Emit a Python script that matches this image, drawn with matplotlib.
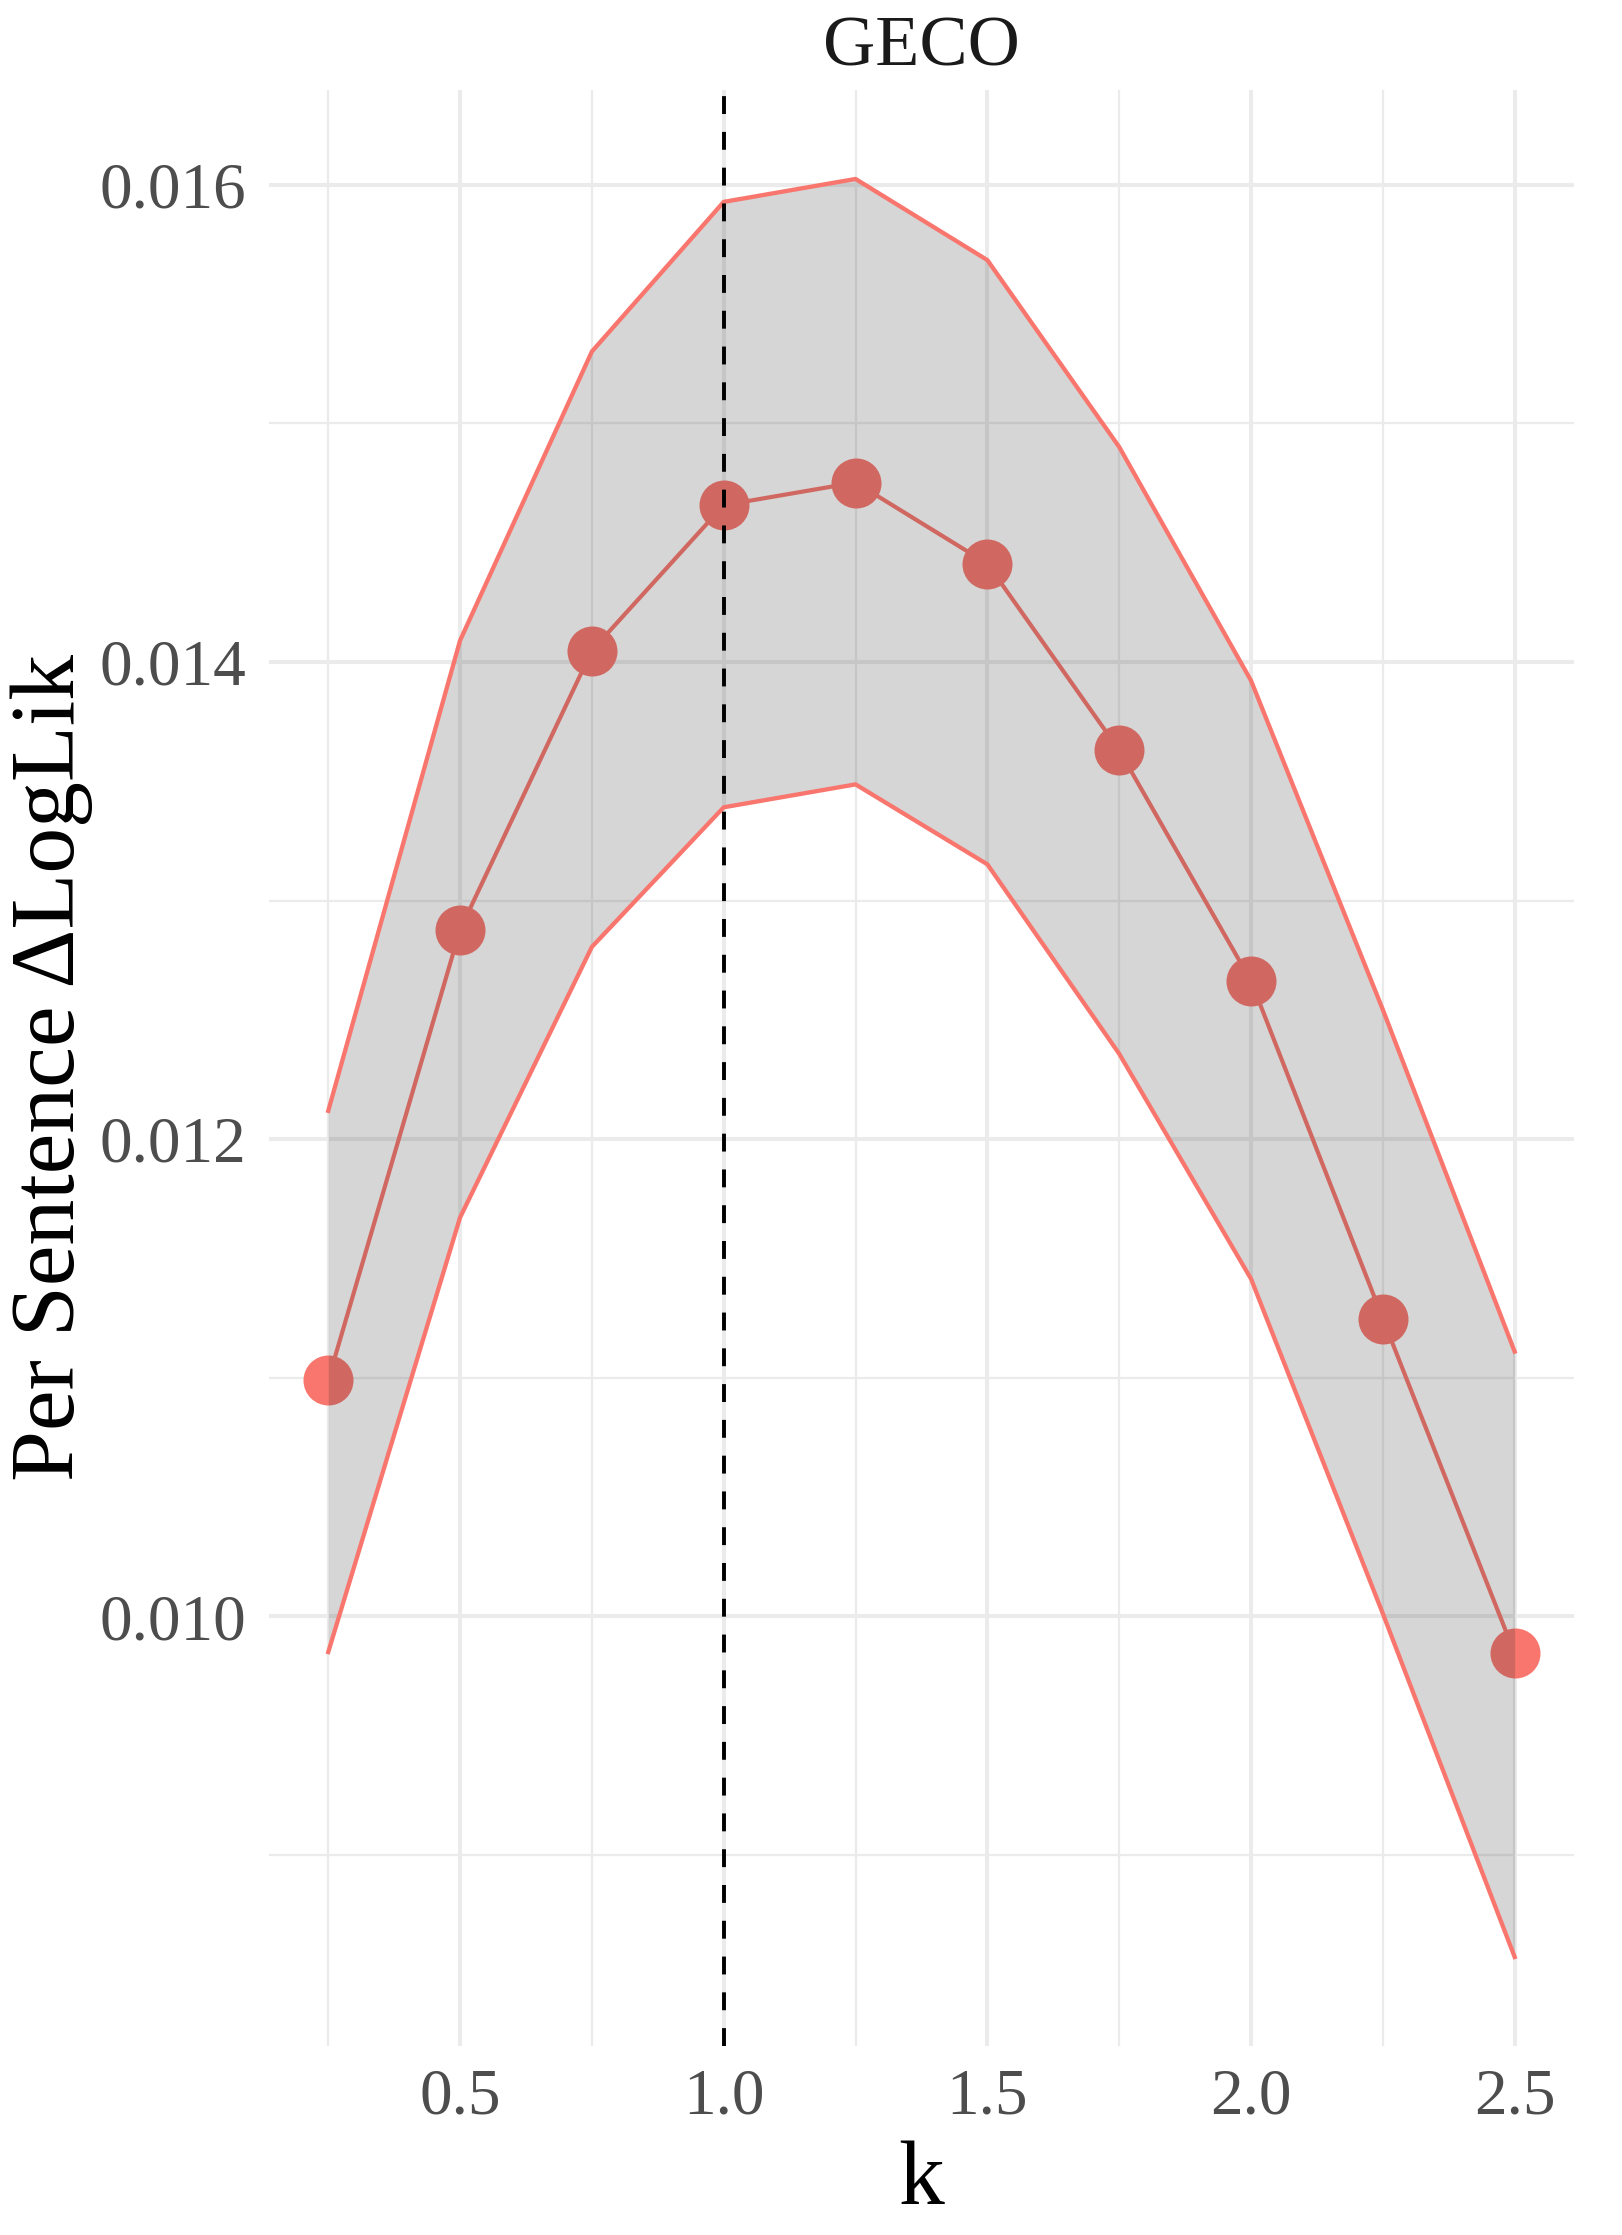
import numpy as np
import matplotlib
matplotlib.use('Agg')
import matplotlib.pyplot as plt
from matplotlib.ticker import MultipleLocator

# values
k = [0.25, 0.5, 0.75, 1.0, 1.25, 1.5, 1.75, 2.0, 2.25, 2.5]
mean_ll = [0.010991, 0.012878, 0.014048, 0.014657, 0.014752,
           0.014412, 0.013630, 0.012663, 0.011248, 0.009845]
upper_ll = [0.012119, 0.014090, 0.015301, 0.015928, 0.016024,
            0.015684, 0.014901, 0.013922, 0.012543, 0.011110]
lower_ll = [0.009851, 0.011672, 0.012806, 0.013391, 0.013487,
            0.013152, 0.012358, 0.011415, 0.010012, 0.008573]
y_ticks = [0.010, 0.012, 0.014, 0.016]
x_ticks = [0.5, 1.0, 1.5, 2.0, 2.5]

red = '#F8766D'
plt.rcParams['font.family'] = ['Liberation Serif', 'DejaVu Serif']

fig = plt.figure(figsize=(16.22, 22.35), dpi=100)
ax = fig.add_axes([0.1658, 0.0846, 0.9704 - 0.1658, 0.9597 - 0.0846])

# ggplot-like expansion of 5%
xr = max(k) - min(k)
ax.set_xlim(min(k) - 0.05 * xr, max(k) + 0.05 * xr)
ylo, yhi = min(lower_ll), max(upper_ll)
yr = yhi - ylo
ax.set_ylim(ylo - 0.05 * yr, yhi + 0.05 * yr)

ax.plot(k, mean_ll, color=red, lw=3.0, zorder=2)
ax.plot(k, mean_ll, 'o', color=red, markersize=36, markeredgewidth=0, zorder=2)
ax.fill_between(k, lower_ll, upper_ll, color='#333333', alpha=0.2, lw=0, zorder=3)
ax.plot(k, upper_ll, color=red, lw=3.1, zorder=4)
ax.plot(k, lower_ll, color=red, lw=3.1, zorder=4)
ax.axvline(1.0, color='black', lw=2.8, ls=(0, (4.6, 4.6)), zorder=5)

ax.set_xticks(x_ticks)
ax.set_yticks(y_ticks)
ax.xaxis.set_minor_locator(MultipleLocator(0.25))
ax.yaxis.set_minor_locator(MultipleLocator(0.001))
ax.set_xticklabels([f'{v:.1f}' for v in x_ticks])
ax.set_yticklabels([f'{v:.3f}' for v in y_ticks])
ax.grid(which='major', color='#EBEBEB', lw=2.9)
ax.grid(which='minor', color='#EBEBEB', lw=1.6)
ax.set_axisbelow(True)
ax.tick_params(which='both', length=0)
ax.tick_params(axis='both', labelsize=47, labelcolor='#4D4D4D')
ax.tick_params(axis='x', pad=16)
ax.tick_params(axis='y', pad=16)
for s in ax.spines.values():
    s.set_visible(False)

ax.set_xlabel('k', fontsize=66, labelpad=9)
ax.set_ylabel('Per Sentence ΔLogLik', fontsize=66, labelpad=5)
ax.set_title('GECO', fontsize=52, color='#1A1A1A', pad=18)

fig.savefig('out.png', dpi=100)
